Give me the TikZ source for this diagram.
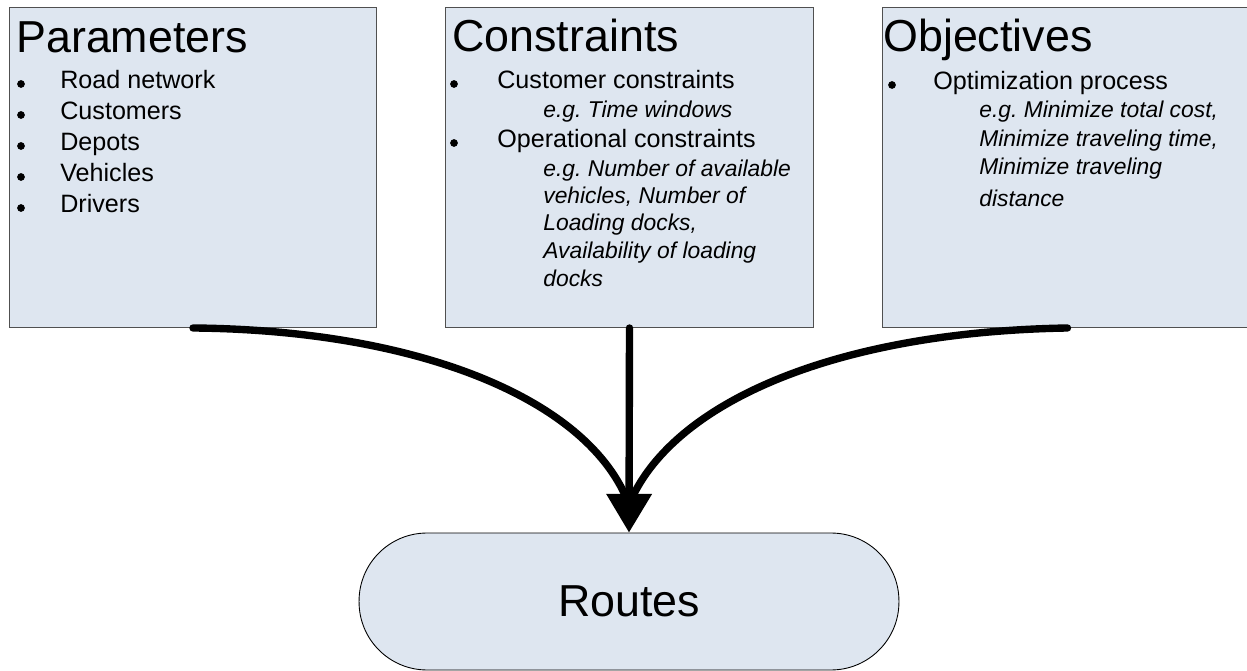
\documentclass[tikz,border=0pt]{standalone}
\usepackage{fontspec}
\setmainfont{Liberation Sans}
\usetikzlibrary{arrows.meta}
\definecolor{panelfill}{RGB}{222,230,240}
\definecolor{panelline}{RGB}{80,80,80}
\frenchspacing

\begin{document}
\begin{tikzpicture}[x=0.02cm, y=-0.02cm, >={Triangle[width=25pt,length=22pt]},
    panel/.style={draw=panelline, fill=panelfill, line width=0.6pt, anchor=north west, inner sep=0, minimum height=6.4cm},
    heading/.style={anchor=base west, inner sep=0, font=\fontsize{25.5}{30}\selectfont},
    item/.style={anchor=base west, inner sep=0, font=\fontsize{14.3}{17}\selectfont},
    example/.style={anchor=base west, inner sep=0, font=\fontsize{13}{16}\selectfont\itshape},
    dot/.style={circle, fill=black, inner sep=0, minimum size=4.4pt},
    flow/.style={line width=4.2pt, line cap=round}]
    \useasboundingbox (0,0) rectangle (1247,671);

    % Draw the three panels
    \node[panel, minimum width=7.34cm] (param) at (9,7) {};
    \node[panel, minimum width=7.36cm] (cons) at (445,7) {};
    \node[panel, minimum width=7.4cm] (obj) at (882,7) {};

    % Parameters
    \node[heading] (paramhead) at (16,53) {Parameters};
    \foreach \t [count=\i] in {Road network, Customers, Depots, Vehicles, Drivers} {
        \node[dot] (pd\i) at (21,{84+31*(\i-1)}) {};
        \node[item] (pi\i) at (60,{89+31*(\i-1)}) {\t};
    }

    % Constraints
    \node[heading] (conshead) at (452,52) {Constraints};
    \node[dot] (cd1) at (454,84) {};
    \node[item] (ci1) at (497,89) {Customer constraints};
    \node[example] (ce1) at (543,118) {e.g. Time windows};
    \node[dot] (cd2) at (454,143) {};
    \node[item] (ci2) at (497,148) {Operational constraints};
    \node[example] (ce2) at (543,177) {e.g. Number of available};
    \node[example] (ce3) at (543,204) {vehicles, Number of};
    \node[example] (ce4) at (543,231) {Loading docks,};
    \node[example] (ce5) at (543,259) {Availability of loading};
    \node[example] (ce6) at (543,287) {docks};

    % Objectives
    \node[heading] (objhead) at (883,52) {Objectives};
    \node[dot] (od1) at (892,85) {};
    \node[item] (oi1) at (933,90) {Optimization process};
    \node[example] (oe1) at (979,118) {e.g. Minimize total cost,};
    \node[example] (oe2) at (979,147) {Minimize traveling time,};
    \node[example] (oe3) at (979,175) {Minimize traveling};
    \node[example] (oe4) at (979,207) {distance};

    % Routes
    \node[draw=black, fill=panelfill, line width=0.5pt, minimum width=10.8cm, minimum height=2.74cm,
        rounded corners=1.36cm, font=\fontsize{25.5}{30}\selectfont] (routes) at (629,601.5) {Routes};

    % Draw the flow arrows
    \coordinate (hub) at ([yshift=0.56cm]routes.north);
    \draw[flow] (param.south) .. controls (420,330) and (590,400) .. (hub);
    \draw[flow] (obj.south) .. controls (830,332) and (670,405) .. (hub);
    \draw[flow, ->] (cons.south) -- (routes.north);
\end{tikzpicture}
\end{document}
